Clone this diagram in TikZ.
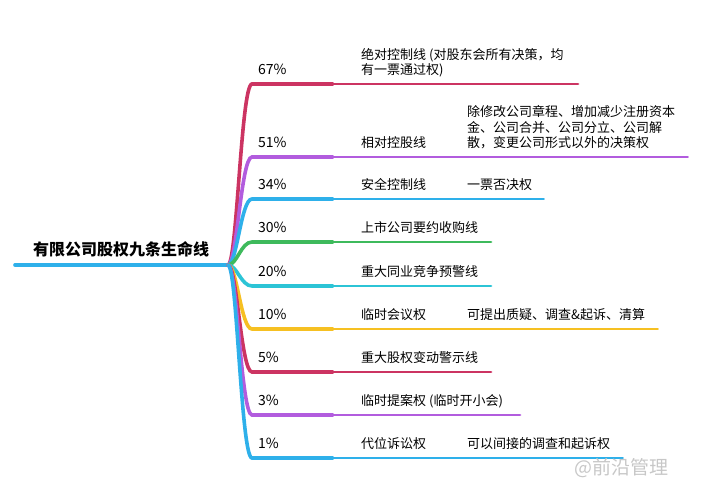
\documentclass[tikz,border=0pt]{standalone}
\usepackage{fontspec}
\setmainfont{Noto Sans CJK SC}
\definecolor{crimson}{RGB}{204,52,98}
\definecolor{violet}{RGB}{178,92,222}
\definecolor{skyblue}{RGB}{46,176,234}
\definecolor{leaf}{RGB}{62,186,92}
\definecolor{teal}{RGB}{44,196,214}
\definecolor{amber}{RGB}{246,192,34}
\begin{document}
\begin{tikzpicture}[x=1pt,y=-1pt,line cap=round,
  lvlone/.style={line width=3.6pt},
  lvltwo/.style={line width=2.8pt},
  lvlthree/.style={line width=1.8pt},
  lbl/.style={anchor=south west,inner sep=0pt,text depth=0pt,align=left,
    font=\fontsize{13}{15.5}\selectfont}]
  \useasboundingbox (0,0) rectangle (704,500);
  \coordinate (root) at (15,265);
  \coordinate (hub) at (228,265);
  \draw[lvlone,skyblue] (root) -- (hub);
  \node[lbl,font=\fontsize{16}{18}\selectfont\bfseries] (title) at (33,256) {有限公司股权九条生命线};
  % percentages
  \foreach \k/\y/\c/\pct in {a/84/crimson/67\%, b/157/violet/51\%, c/199/skyblue/34\%,
      d/242/leaf/30\%, e/286/teal/20\%, f/329/amber/10\%, g/372/crimson/5\%,
      h/415/violet/3\%, i/458/skyblue/1\%}{
    \coordinate (p\k) at (252,\y);
    \coordinate (m\k) at (333,\y);
    \draw[lvlone,\c] (hub) .. controls (237,265) and (241,\y) .. (p\k) -- (m\k);
    \node[lbl,font=\fontsize{14}{16}\selectfont] (pct\k) at (258,\y-9) {\pct};
  }
  % lines
  \foreach \k/\y/\c/\e/\txt in {a/84/crimson/578/{绝对控制线 (对股东会所有决策，均\\有一票通过权)},
      b/157/violet/438/相对控股线, c/199/skyblue/438/安全控制线,
      d/242/leaf/491/上市公司要约收购线, e/286/teal/491/重大同业竞争预警线,
      f/329/amber/438/临时会议权, g/372/crimson/491/重大股权变动警示线,
      h/415/violet/520/临时提案权 (临时开小会), i/458/skyblue/438/代位诉讼权}{
    \coordinate (e\k) at (\e,\y);
    \draw[lvltwo,\c] (m\k) -- (e\k);
    \node[lbl] (name\k) at (361,\y-9) {\txt};
  }
  % rights
  \foreach \k/\y/\c/\e/\txt in {b/157/violet/688/{除修改公司章程、增加减少注册资本\\金、公司合并、公司分立、公司解\\散，变更公司形式以外的决策权},
      c/199/skyblue/544/一票否决权, f/329/amber/658/可提出质疑、调查\&起诉、清算,
      i/458/skyblue/623/可以间接的调查和起诉权}{
    \coordinate (t\k) at (\e,\y);
    \draw[lvlthree,\c] (e\k) -- (t\k);
    \node[lbl] (note\k) at (467,\y-9) {\txt};
  }
  \node[anchor=west,inner sep=0pt,text=black!22,font=\fontsize{19}{21}\selectfont] (mark) at (574,468) {@前沿管理};
\end{tikzpicture}
\end{document}
